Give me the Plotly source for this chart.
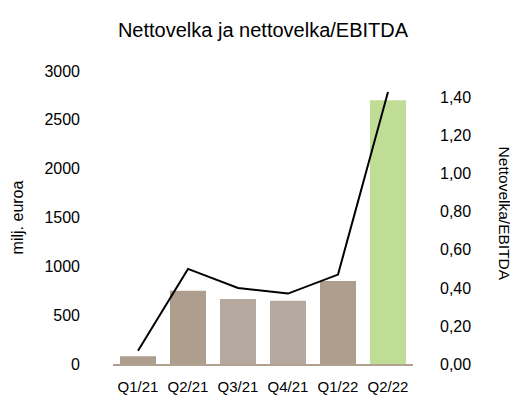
import plotly.graph_objects as go

quarters = ["Q1/21", "Q2/21", "Q3/21", "Q4/21", "Q1/22", "Q2/22"]
net_debt = [80, 750, 665, 647, 850, 2700]          # milj. euroa
net_debt_ebitda = [0.07, 0.50, 0.40, 0.37, 0.47, 1.43]
bar_colors = ["#ad9e8e", "#ad9e8e", "#b5a89e", "#b5a89e", "#ad9e8e", "#bfdd95"]

font_family = "Liberation Sans, Arial, sans-serif"

fig = go.Figure()
fig.add_trace(go.Bar(x=quarters, y=net_debt, marker=dict(color=bar_colors, line=dict(width=0)),
                     name="Nettovelka", yaxis="y"))
fig.add_trace(go.Scatter(x=quarters, y=net_debt_ebitda, mode="lines",
                         line=dict(color="black", width=2), name="Nettovelka/EBITDA", yaxis="y2",
                         cliponaxis=False))

# page body has an 8px margin, so the figure is drawn 8px smaller and offset
fig.update_layout(
    width=510, height=399,
    margin=dict(l=105, r=105, t=63, b=39),
    paper_bgcolor="white", plot_bgcolor="white",
    showlegend=False,
    separators=", ",
    bargap=0.28,
    font=dict(family=font_family, size=16, color="#000000"),
    title=dict(text="Nettovelka ja nettovelka/EBITDA", x=0.5, xanchor="center",
               y=0.945, yanchor="middle", font=dict(size=20)),
    xaxis=dict(showgrid=False, showline=True, linecolor="#b0a090", linewidth=2,
               tickfont=dict(size=15), ticks="", ticklabelstandoff=8),
    yaxis=dict(range=[0, 3000], dtick=500, tickformat="d", showgrid=False, zeroline=False,
               showline=False, ticklabelstandoff=32, tickfont=dict(size=16)),
    yaxis2=dict(range=[0, 1.54], dtick=0.2, tick0=0, tickformat=".2f", overlaying="y",
                side="right", showgrid=False, zeroline=False, showline=False,
                ticklabelstandoff=26, tickfont=dict(size=16)),
    annotations=[
        dict(text="milj. euroa", xref="paper", yref="paper", x=-0.317, y=0.5,
             textangle=-90, showarrow=False, font=dict(size=16),
             xanchor="center", yanchor="middle"),
        dict(text="Nettovelka/EBITDA", xref="paper", yref="paper", x=1.305, y=0.515,
             textangle=90, showarrow=False, font=dict(size=15.5),
             xanchor="center", yanchor="middle"),
    ],
)

fig.write_html("out.html")
